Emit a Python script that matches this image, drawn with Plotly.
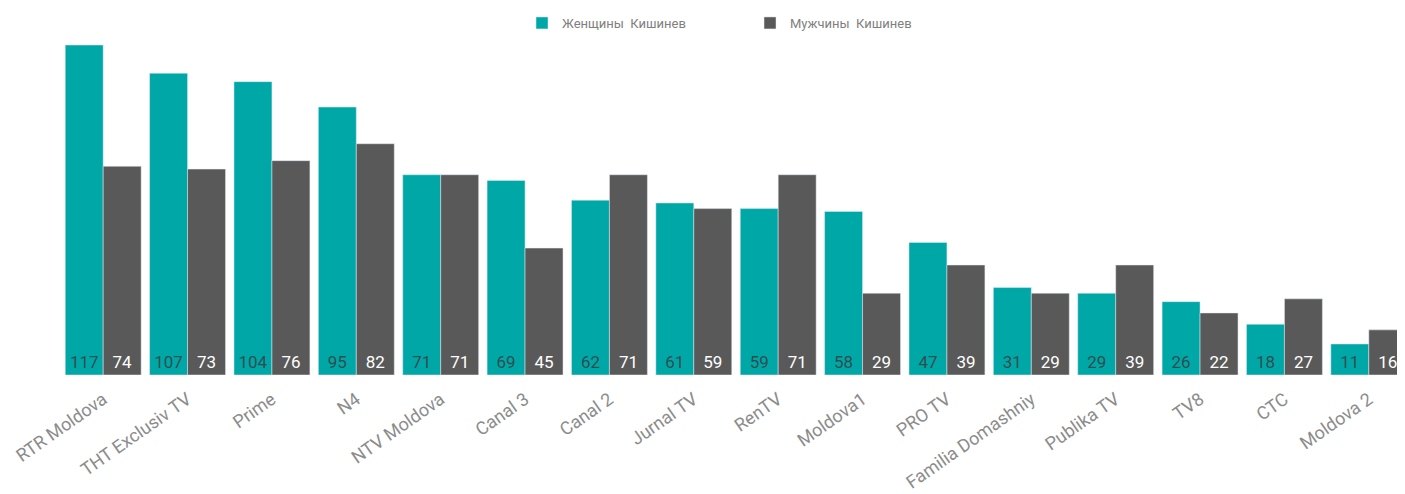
import plotly.graph_objects as go

categories = ["RTR Moldova", "THT Exclusiv TV", "Prime", "N4", "NTV Moldova", "Canal 3",
              "Canal 2", "Jurnal TV", "RenTV", "Moldova1", "PRO TV", "Familia Domashniy",
              "Publika TV", "TV8", "CTC", "Moldova 2"]
women = [117, 107, 104, 95, 71, 69, 62, 61, 59, 58, 47, 31, 29, 26, 18, 11]
men = [74, 73, 76, 82, 71, 45, 71, 59, 71, 29, 39, 29, 39, 22, 27, 16]

TEAL = "#00A7A7"
GRAY = "#595959"

fig = go.Figure()
fig.add_trace(go.Bar(
    x=categories, y=women, name="Женщины  Кишинев",
    marker=dict(color=TEAL),
    text=women, textposition="inside", insidetextanchor="start",
    textangle=0,
    textfont=dict(family="Roboto", size=17, color="#2F4F4F"),
))
fig.add_trace(go.Bar(
    x=categories, y=men, name="Мужчины  Кишинев",
    marker=dict(color=GRAY),
    text=men, textposition="inside", insidetextanchor="start",
    textangle=0,
    textfont=dict(family="Roboto", size=17, color="#FFFFFF"),
))

fig.update_layout(
    width=1405, height=494,
    margin=dict(l=53, r=2, t=37, b=127, autoexpand=False),
    barmode="group", bargap=0.1, bargroupgap=0,
    plot_bgcolor="white", paper_bgcolor="white",
    uniformtext=dict(minsize=10, mode="show"),
    legend=dict(orientation="h", x=0.3415, xanchor="left", y=1.0, yanchor="top",
                yref="container", entrywidth=183,
                font=dict(family="Roboto", size=13, color="#808080"),
                itemwidth=30),
    font=dict(family="Roboto"),
)
fig.update_xaxes(
    tickangle=-35, range=[-0.5, 15.5], automargin=False,
    tickfont=dict(family="Roboto", size=18, color="#8C8C8C"),
    showline=False, showgrid=False, ticks="outside", ticklen=6, tickcolor="rgba(0,0,0,0)",
)
fig.update_yaxes(range=[0, 117], visible=False, showgrid=False)

fig.write_html("out.html")
